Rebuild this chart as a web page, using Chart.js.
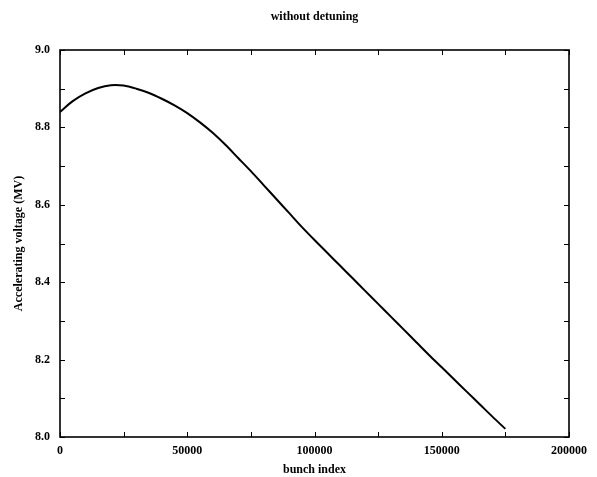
<!DOCTYPE html>
<html>
<head>
<meta charset="utf-8">
<script src="https://cdn.jsdelivr.net/npm/chart.js@4.4.0/dist/chart.umd.min.js"></script>
<style>
  html, body { margin: 0; padding: 0; background: #fff; }
  .wrap { width: 597px; height: 477px; }
</style>
</head>
<body>
<div class="wrap"><canvas id="chart" width="597" height="477"></canvas></div>
<script>
// bunch index vs accelerating voltage (MV)
const bunchIndex = [0, 5000, 10000, 15000, 20000, 25000, 30000, 35000, 40000, 45000,
  50000, 55000, 60000, 65000, 70000, 75000, 80000, 85000, 90000, 95000,
  100000, 105000, 110000, 115000, 120000, 125000, 130000, 135000, 140000, 145000,
  150000, 155000, 160000, 165000, 170000, 175000];
const voltage = [8.840, 8.868, 8.888, 8.902, 8.909, 8.908, 8.900, 8.889, 8.874, 8.857,
  8.837, 8.813, 8.786, 8.755, 8.721, 8.687, 8.651, 8.615, 8.579, 8.543,
  8.509, 8.476, 8.443, 8.410, 8.377, 8.344, 8.311, 8.278, 8.245, 8.212,
  8.180, 8.148, 8.116, 8.084, 8.052, 8.021];
const xTickLabels = [0, 50000, 100000, 150000, 200000];
const yTickLabels = [8.0, 8.2, 8.4, 8.6, 8.8, 9.0];

const serif = "'Liberation Serif', 'DejaVu Serif', serif";

// box round the plot and short ticks pointing inwards on all four sides
const frame = {
  id: 'frame',
  afterDraw(chart) {
    const { ctx, chartArea: a, scales } = chart;
    ctx.save();
    ctx.strokeStyle = '#000';
    ctx.lineWidth = 1;
    scales.x.ticks.forEach(t => {
      const px = Math.round(scales.x.getPixelForValue(t.value)) + 0.5;
      ctx.beginPath();
      ctx.moveTo(px, a.bottom); ctx.lineTo(px, a.bottom - 5);
      ctx.moveTo(px, a.top); ctx.lineTo(px, a.top + 5);
      ctx.stroke();
    });
    scales.y.ticks.forEach(t => {
      const py = Math.round(scales.y.getPixelForValue(t.value)) + 0.5;
      ctx.beginPath();
      ctx.moveTo(a.left, py); ctx.lineTo(a.left + 5, py);
      ctx.moveTo(a.right, py); ctx.lineTo(a.right - 5, py);
      ctx.stroke();
    });
    ctx.lineWidth = 1.6;
    ctx.strokeRect(a.left, a.top, a.right - a.left, a.bottom - a.top);
    ctx.restore();
  }
};

new Chart(document.getElementById('chart'), {
  type: 'line',
  data: {
    datasets: [{
      data: bunchIndex.map((x, i) => ({ x: x, y: voltage[i] })),
      borderColor: '#000',
      borderWidth: 2,
      pointRadius: 0,
      tension: 0.3,
      fill: false
    }]
  },
  plugins: [frame],
  options: {
    responsive: false,
    animation: false,
    layout: { padding: { left: 0, right: 28, top: 0, bottom: 0 } },
    plugins: {
      legend: { display: false },
      tooltip: { enabled: false },
      title: {
        display: true,
        text: 'without detuning',
        fullSize: false,
        color: '#000',
        font: { family: serif, size: 12, weight: 'bold', lineHeight: 1.2 },
        padding: { top: 10, bottom: 25.6 }
      }
    },
    scales: {
      x: {
        type: 'linear',
        min: 0,
        max: 200000,
        afterFit: s => { s.height = 40; },
        grid: { drawOnChartArea: false, drawTicks: false },
        border: { display: false },
        ticks: {
          stepSize: 25000,
          autoSkip: false,
          maxRotation: 0,
          padding: 7,
          color: '#000',
          font: { family: serif, size: 12, weight: 'bold' },
          callback: v => xTickLabels.includes(v) ? String(v) : ''
        },
        title: {
          display: true,
          text: 'bunch index',
          color: '#000',
          font: { family: serif, size: 12, weight: 'bold', lineHeight: 1.2 },
          padding: { top: 0, bottom: 0 }
        }
      },
      y: {
        min: 8,
        max: 9,
        afterFit: s => { s.width = 60; },
        grid: { drawOnChartArea: false, drawTicks: false },
        border: { display: false },
        ticks: {
          stepSize: 0.1,
          autoSkip: false,
          padding: 10,
          color: '#000',
          font: { family: serif, size: 12, weight: 'bold' },
          callback: v => yTickLabels.some(t => Math.abs(t - v) < 1e-6) ? v.toFixed(1) : ''
        },
        title: {
          display: true,
          text: 'Accelerating voltage (MV)',
          color: '#000',
          font: { family: serif, size: 12, weight: 'bold', lineHeight: 1.2 },
          padding: { top: 12, bottom: 0 }
        }
      }
    }
  }
});
</script>
</body>
</html>
